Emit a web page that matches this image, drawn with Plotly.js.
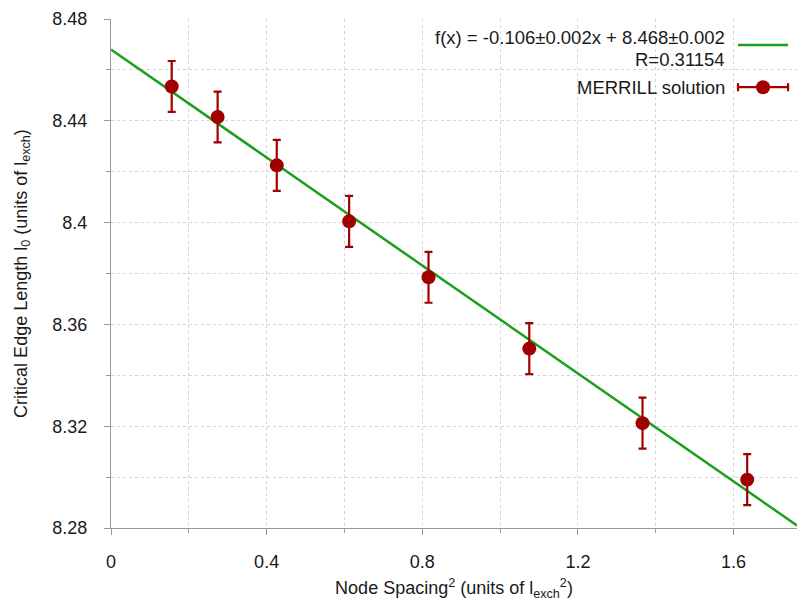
<!DOCTYPE html>
<html>
<head>
<meta charset="utf-8">
<script src="https://cdn.plot.ly/plotly-3.0.1.min.js"></script>
<style>html,body{margin:0;padding:0;background:#fff;}#chart{width:802px;height:601px;}</style>
</head>
<body>
<div id="chart"></div>
<script>
// Data
const nodeSpacingSq = [0.156, 0.274, 0.426, 0.612, 0.816, 1.075, 1.366, 1.635];
const criticalEdge  = [8.4535, 8.4415, 8.4225, 8.4005, 8.3785, 8.3505, 8.3212, 8.2990];
const edgeError     = [0.01, 0.01, 0.01, 0.01, 0.01, 0.01, 0.01, 0.01];
const fitX = [0, 1.763];
const fitY = [8.468, 8.281];
const fitLabel = "f(x) = -0.106±0.002x + 8.468±0.002";
const fitR = "R=0.31154";
const seriesLabel = "MERRILL solution";

const FONT = "Liberation Sans, Arial, sans-serif";
const TXT = "#1a1a1a";
const RED = "#a00000";
const GREEN = "#1a9f1a";
const FS = 18;
const LFS = 18.5;

const traces = [
  {
    x: fitX, y: fitY, mode: "lines", type: "scatter",
    line: {color: GREEN, width: 2.5}, showlegend: false, hoverinfo: "skip"
  },
  {
    x: nodeSpacingSq, y: criticalEdge, mode: "markers", type: "scatter",
    marker: {color: RED, size: 14},
    error_y: {type: "data", array: edgeError, visible: true, color: RED, thickness: 2.2, width: 4},
    showlegend: false
  }
];

// legend geometry (paper coords)
const lgX0 = 0.914, lgX1 = 0.987;
const yL1 = 0.949, yL2 = 0.866;
const shapes = [
  {type: "rect", xref: "paper", yref: "paper", x0: 0.47, x1: 1.0, y0: 0.828, y1: 0.992,
   fillcolor: "#ffffff", line: {width: 0}, layer: "between"},
  {type: "line", xref: "paper", yref: "paper", x0: lgX0, x1: lgX1, y0: yL1, y1: yL1,
   line: {color: GREEN, width: 2.5}},
  {type: "line", xref: "paper", yref: "paper", x0: lgX0, x1: lgX1, y0: yL2, y1: yL2,
   line: {color: RED, width: 2.2}},
  {type: "line", xref: "paper", yref: "paper", x0: lgX0, x1: lgX0, y0: yL2 - 0.008, y1: yL2 + 0.008,
   line: {color: RED, width: 2.2}},
  {type: "line", xref: "paper", yref: "paper", x0: lgX1, x1: lgX1, y0: yL2 - 0.008, y1: yL2 + 0.008,
   line: {color: RED, width: 2.2}},
  {type: "circle", xref: "paper", yref: "paper", xsizemode: "pixel", ysizemode: "pixel",
   xanchor: (lgX0 + lgX1) / 2, yanchor: yL2, x0: -7, x1: 7, y0: -7, y1: 7,
   fillcolor: RED, line: {color: RED, width: 0}}
];

const annotations = [
  {xref: "paper", yref: "paper", x: 0.898, y: 0.963, xanchor: "right", yanchor: "middle",
   text: fitLabel, showarrow: false, font: {family: FONT, size: LFS, color: TXT}},
  {xref: "paper", yref: "paper", x: 0.898, y: 0.920, xanchor: "right", yanchor: "middle",
   text: fitR, showarrow: false, font: {family: FONT, size: LFS, color: TXT}},
  {xref: "paper", yref: "paper", x: 0.898, y: yL2, xanchor: "right", yanchor: "middle",
   text: seriesLabel, showarrow: false, font: {family: FONT, size: LFS, color: TXT}}
];

const layout = {
  width: 802, height: 601,
  margin: {l: 111, r: 5, t: 19, b: 73},
  paper_bgcolor: "#ffffff", plot_bgcolor: "#ffffff",
  font: {family: FONT, size: FS, color: TXT},
  showlegend: false,
  xaxis: {
    range: [0, 1.763], tick0: 0, dtick: 0.4, tickformat: "~g",
    showline: true, linecolor: "#999999", linewidth: 1,
    ticks: "outside", ticklen: 6, tickcolor: "#999999",
    showgrid: true, gridcolor: "#d4d4d4", griddash: "dot", gridwidth: 1,
    minor: {dtick: 0.2, showgrid: true, gridcolor: "#d4d4d4", griddash: "dot", ticks: "outside", ticklen: 4, tickcolor: "#999999"},
    zeroline: false, ticklabelstandoff: 11,
    tickfont: {family: FONT, size: FS, color: TXT},
    title: {text: "Node Spacing<sup>2</sup> (units of l<sub>exch</sub><sup>2</sup>)", font: {family: FONT, size: FS, color: TXT}, standoff: 15}
  },
  yaxis: {
    range: [8.28, 8.48], tick0: 8.28, dtick: 0.04, tickformat: "~g",
    showline: true, linecolor: "#999999", linewidth: 1,
    ticks: "outside", ticklen: 6, tickcolor: "#999999",
    showgrid: true, gridcolor: "#d4d4d4", griddash: "dot", gridwidth: 1,
    minor: {dtick: 0.02, showgrid: true, gridcolor: "#d4d4d4", griddash: "dot", ticks: "outside", ticklen: 4, tickcolor: "#999999"},
    zeroline: false, ticklabelstandoff: 13,
    tickfont: {family: FONT, size: FS, color: TXT},
    title: {text: "Critical Edge Length l<sub>0</sub> (units of l<sub>exch</sub>)", font: {family: FONT, size: FS, color: TXT}, standoff: 20}
  },
  shapes: shapes,
  annotations: annotations
};

Plotly.newPlot("chart", traces, layout, {displayModeBar: false, staticPlot: true});
</script>
</body>
</html>
